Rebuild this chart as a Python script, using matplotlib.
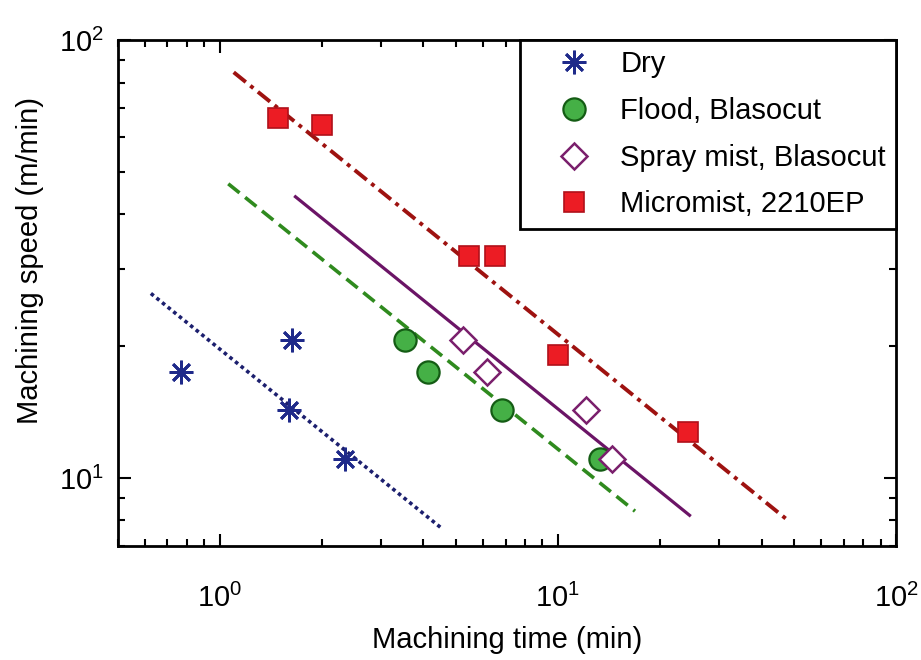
import numpy as np
import matplotlib.pyplot as plt
from matplotlib.ticker import LogLocator, NullFormatter

plt.rcParams['font.family'] = ['Liberation Sans', 'DejaVu Sans']
plt.rcParams['mathtext.default'] = 'regular'

# measured points (time in min, speed in m/min)
dry_t = [0.77, 1.64, 1.60, 2.35]
dry_v = [17.5, 20.7, 14.3, 11.05]
flood_t = [3.54, 4.13, 6.84, 13.3]
flood_v = [20.7, 17.5, 14.3, 11.05]
spray_t = [5.25, 6.17, 12.1, 14.5]
spray_v = [20.7, 17.5, 14.3, 11.05]
micro_t = [1.49, 2.0, 5.46, 6.52, 10.0, 24.2]
micro_v = [66.5, 64.1, 32.1, 32.1, 19.1, 12.75]

# fitted Taylor lines, end points
dry_fit_t = [0.626, 4.49]
dry_fit_v = [26.4, 7.72]
flood_fit_t = [1.06, 16.9]
flood_fit_v = [47.0, 8.4]
spray_fit_t = [1.675, 24.5]
spray_fit_v = [43.9, 8.22]
micro_fit_t = [1.10, 48.3]
micro_fit_v = [84.5, 7.96]

labels = ['Dry', 'Flood, Blasocut', 'Spray mist, Blasocut', 'Micromist, 2210EP']

fig = plt.figure(figsize=(9.21, 6.60), dpi=100)
ax = fig.add_axes([0.128, 0.173, 0.845, 0.766])

# fit lines
ax.plot(dry_fit_t, dry_fit_v, ls=(0, (1, 1)), color='#1c1f6e', lw=2.6)
ax.plot(flood_fit_t, flood_fit_v, ls=(0, (4, 2)), color='#2f8a1e', lw=2.6)
ax.plot(spray_fit_t, spray_fit_v, ls='-', color='#6b1466', lw=2.3)
ax.plot(micro_fit_t, micro_fit_v, ls=(0, (4, 1.5, 1, 1.5)), color='#9e1210', lw=2.8)

# markers
ax.plot(dry_t, dry_v, ls='none', marker=(8, 2, 0), ms=17, mew=2,
        color='#1f2a8a', label=labels[0])
ax.plot(flood_t, flood_v, ls='none', marker='o', ms=16, mew=1.6,
        mfc='#45b046', mec='#145c14', label=labels[1])
ax.plot(spray_t, spray_v, ls='none', marker='D', ms=13, mew=1.8,
        mfc='white', mec='#7a1f6c', label=labels[2])
ax.plot(micro_t, micro_v, ls='none', marker='s', ms=14, mew=1.2,
        mfc='#ec1c24', mec='#b0101a', label=labels[3])

ax.set_xscale('log')
ax.set_yscale('log')
ax.set_xlim(0.5, 100)
ax.set_ylim(7, 100)
ax.yaxis.set_minor_formatter(NullFormatter())
ax.xaxis.set_minor_formatter(NullFormatter())
ax.xaxis.set_major_locator(LogLocator(base=10))
ax.yaxis.set_major_locator(LogLocator(base=10))

ax.tick_params(which='both', direction='in', top=True, right=True,
               labelsize=21, width=1.5)
ax.tick_params(which='major', length=9)
ax.tick_params(axis='x', which='major', pad=27)
ax.tick_params(axis='y', which='major', pad=10)
ax.tick_params(which='minor', length=5)
for s in ax.spines.values():
    s.set_linewidth(2)

ax.set_xlabel('Machining time (min)', fontsize=21, labelpad=10)
ax.set_ylabel('Machining speed (m/min)', fontsize=21)
ax.yaxis.set_label_coords(-0.095, 0.565)

leg = ax.legend(loc='upper right', fontsize=21, borderaxespad=0, fancybox=False,
                edgecolor='black', framealpha=1, handlelength=3.0,
                handletextpad=0.1, labelspacing=0.64, borderpad=0.35)
leg.get_frame().set_linewidth(2)

fig.savefig('out.png', dpi=100)
